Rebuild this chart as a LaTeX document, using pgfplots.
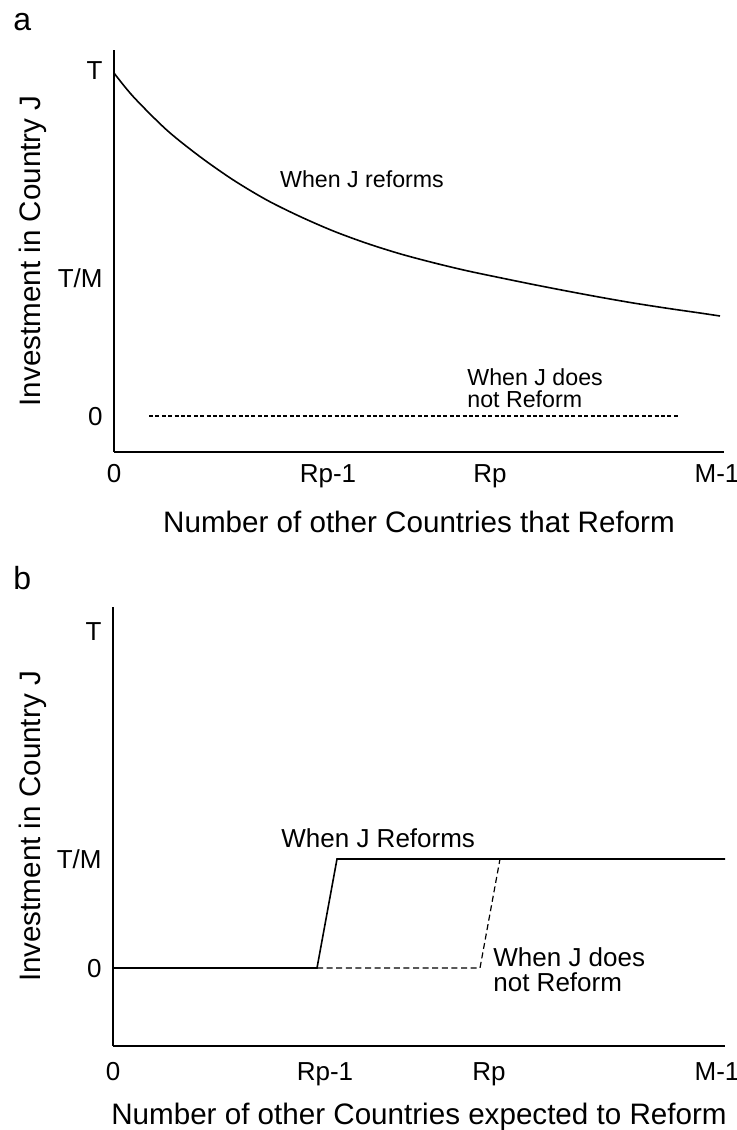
\documentclass[border=0pt]{standalone}
\usepackage{fontspec}
\setmainfont{Liberation Sans}
\usepackage{pgfplots}
\pgfplotsset{compat=1.18}
\begin{document}
\begin{tikzpicture}
\useasboundingbox (0,0) rectangle (368.5pt,-565pt);
\pgfplotsset{
  panel/.style={
    scale only axis,
    axis x line*=bottom, axis y line*=left,
    axis line style={-, line width=1.2pt, black},
    major tick length=0pt,
    tick style={draw=none},
    clip=false,
    xticklabel style={font=\fontsize{13}{15}\selectfont, anchor=base, inner sep=0pt},
    yticklabel style={font=\fontsize{13}{15}\selectfont, anchor=base east, inner sep=0pt, xshift=-5.5pt, yshift=-4.6pt},
    xlabel style={font=\fontsize{14.8}{17}\selectfont, anchor=base},
    ylabel style={font=\fontsize{14.8}{17}\selectfont, anchor=center},
  }
}
\node[anchor=base west, inner sep=0pt, font=\fontsize{16}{18}\selectfont] at (6.5pt,-15pt) {a};
\node[anchor=base west, inner sep=0pt, font=\fontsize{16}{18}\selectfont] at (6.5pt,-294.5pt) {b};

\begin{axis}[panel, width=305pt, height=201pt, at={(57pt,-226pt)}, anchor=south west,
  xmin=0, xmax=610, ymin=-36, ymax=366,
  xtick={0,214,376,603}, xticklabels={0,Rp-1,Rp,M-1},
  ytick={0,138,346}, yticklabels={0,T/M,T},
  xticklabel style={yshift=-15pt},
  xlabel={Number of other Countries that Reform},
  ylabel={Investment in Country J},
  xlabel style={at={(axis description cs:0.5,0)}, yshift=-40pt},
  ylabel style={at={(axis description cs:-0.1328,0.5)}},
]
\addplot[black, line width=0.8pt, smooth] coordinates {
(0,343) (19.3,319.3) (52.7,286) (86,259.3) (119.3,236) (152.7,216) (186,199.5)
(219.3,185) (252.7,172.7) (286,162.2) (319.3,153.3) (352.7,145.3) (386,138.3)
(419.3,131.5) (452.7,125) (486,118.8) (519.3,113) (552.7,107.8) (586,103) (606,100)};
\addplot[black, line width=0.6pt, dash pattern=on 2pt off 1.2pt] coordinates {(35,0) (565,0)};
\node[anchor=center, font=\fontsize{11.6}{12}\selectfont] at (axis cs:248,237) {When J reforms};
\node[anchor=west, align=left, inner sep=0pt, font=\fontsize{11.6}{11}\selectfont] at (axis cs:353,28) {When J does\\not Reform};
\end{axis}

\begin{axis}[panel, width=306pt, height=219.5pt, at={(56.5pt,-523pt)}, anchor=south west,
  xmin=0, xmax=612, ymin=-78, ymax=361,
  xtick={0,212,376,604}, xticklabels={0,Rp-1,Rp,M-1},
  ytick={0,109,337}, yticklabels={0,T/M,T},
  xticklabel style={yshift=-17pt},
  xlabel={Number of other Countries expected to Reform},
  ylabel={Investment in Country J},
  xlabel style={at={(axis description cs:0.5,0)}, yshift=-39pt},
  ylabel style={at={(axis description cs:-0.1307,0.5)}},
]
\addplot[black, line width=0.8pt] coordinates {(0,0) (204,0) (224,109) (612,109)};
\addplot[black, line width=0.6pt, dash pattern=on 3pt off 1.8pt] coordinates {(204,0) (367,0) (387,109)};
\node[anchor=west, inner sep=0pt, font=\fontsize{13}{14}\selectfont] at (axis cs:168,130) {When J Reforms};
\node[anchor=west, align=left, inner sep=0pt, font=\fontsize{13}{12.5}\selectfont] at (axis cs:380,-2) {When J does\\not Reform};
\end{axis}
\end{tikzpicture}
\end{document}
